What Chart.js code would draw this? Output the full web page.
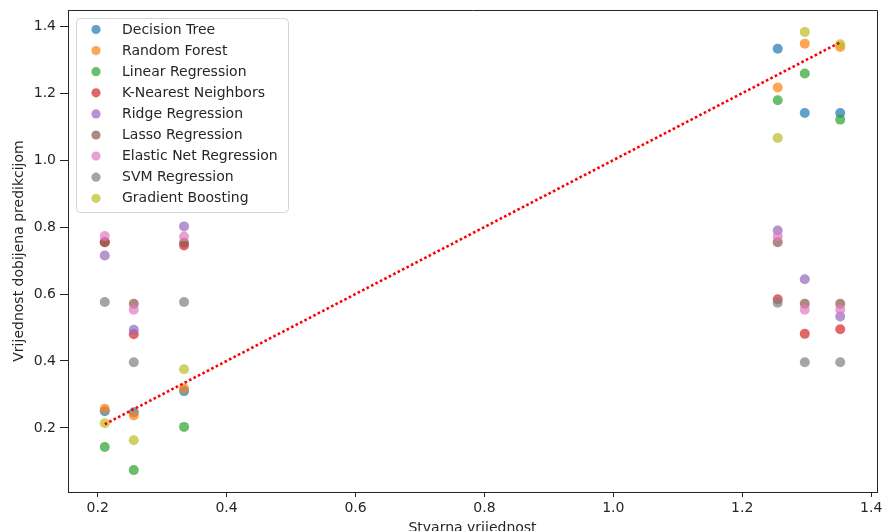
<!DOCTYPE html>
<html>
<head>
<meta charset="utf-8">
<script src="https://cdn.jsdelivr.net/npm/chart.js@4/dist/chart.umd.min.js"></script>
<style>
  html, body { margin: 0; padding: 0; background: #ffffff; }
  #wrap { position: relative; width: 882px; height: 531px; }
</style>
</head>
<body>
<div id="wrap"><canvas id="chart" width="882" height="531"></canvas></div>
<script>
// Actual target values (x) shared by every model
const actualValues = [0.211, 0.256, 0.334, 1.255, 1.297, 1.352];

// Predictions per model, in the same order as actualValues
const modelNames = [
  'Decision Tree', 'Random Forest', 'Linear Regression', 'K-Nearest Neighbors',
  'Ridge Regression', 'Lasso Regression', 'Elastic Net Regression', 'SVM Regression',
  'Gradient Boosting'
];
const decisionTree     = [0.250, 0.247, 0.310, 1.333, 1.141, 1.141];
const randomForest     = [0.257, 0.237, 0.318, 1.217, 1.348, 1.338];
const linearRegression = [0.143, 0.074, 0.203, 1.179, 1.259, 1.121];
const kNearest         = [0.755, 0.480, 0.745, 0.584, 0.481, 0.495];
const ridgeRegression  = [0.715, 0.493, 0.802, 0.790, 0.644, 0.533];
const lassoRegression  = [0.755, 0.571, 0.753, 0.755, 0.571, 0.571];
const elasticNet       = [0.773, 0.553, 0.772, 0.772, 0.553, 0.553];
const svmRegression    = [0.576, 0.396, 0.576, 0.574, 0.396, 0.396];
const gradientBoosting = [0.214, 0.163, 0.375, 1.066, 1.383, 1.346];

const xTicks = [0.2, 0.4, 0.6, 0.8, 1.0, 1.2, 1.4];
const yTicks = [0.2, 0.4, 0.6, 0.8, 1.0, 1.2, 1.4];

const seriesValues = [
  decisionTree, randomForest, linearRegression, kNearest, ridgeRegression,
  lassoRegression, elasticNet, svmRegression, gradientBoosting
];
const palette = ['#1f77b4', '#ff7f0e', '#2ca02c', '#d62728', '#9467bd',
                 '#8c564b', '#e377c2', '#7f7f7f', '#bcbd22'];

function withAlpha(hex, a) {
  const n = parseInt(hex.slice(1), 16);
  return `rgba(${(n >> 16) & 255}, ${(n >> 8) & 255}, ${n & 255}, ${a})`;
}

const FONT = "'DejaVu Sans', 'Liberation Sans', sans-serif";
const TEXT = '#262626';
const AXIS = '#262626';

// Scatter series, later models painted over earlier ones
const datasets = seriesValues.map((vals, i) => ({
  type: 'scatter',
  label: modelNames[i],
  data: vals.map((v, j) => ({ x: actualValues[j], y: v })),
  backgroundColor: withAlpha(palette[i], 0.7),
  borderWidth: 0,
  pointRadius: 5,
  pointHoverRadius: 5,
  order: 100 - i
}));

// Ideal prediction line y = x across the actual range
const lo = Math.min(...actualValues);
const hi = Math.max(...actualValues);
datasets.push({
  type: 'line',
  label: '_ideal',
  data: [{ x: lo, y: lo }, { x: hi, y: hi }],
  borderColor: '#ff0000',
  borderWidth: 2.6,
  borderDash: [2.6, 2.4],
  borderCapStyle: 'butt',
  pointRadius: 0,
  fill: false,
  order: 0
});

// Data range with 5% margins on each side
const xSpan = hi - lo;
const allY = seriesValues.flat();
const yMinV = Math.min(...allY), yMaxV = Math.max(...allY);
const ySpan = yMaxV - yMinV;

// Frame on top and right of the plot area
const framePlugin = {
  id: 'frame',
  afterDatasetsDraw(chart) {
    const { ctx, chartArea: a } = chart;
    ctx.save();
    ctx.strokeStyle = AXIS;
    ctx.lineWidth = 1;
    ctx.beginPath();
    ctx.moveTo(a.left, a.top + 0.5);
    ctx.lineTo(a.right + 0.5, a.top + 0.5);
    ctx.lineTo(a.right + 0.5, a.bottom);
    ctx.stroke();
    ctx.restore();
  }
};

// Boxed legend in the upper-left corner of the plot
const boxLegend = {
  id: 'boxLegend',
  afterDraw(chart) {
    const { ctx } = chart;
    const items = chart.data.datasets.filter(d => d.type === 'scatter');
    const left = 76, top = 18, width = 212, height = 194;
    const rowStart = 29.5, rowStep = 21.1;
    ctx.save();
    ctx.beginPath();
    ctx.roundRect(left + 0.5, top + 0.5, width, height, 4);
    ctx.fillStyle = 'rgba(255,255,255,0.85)';
    ctx.fill();
    ctx.strokeStyle = '#d4d4d4';
    ctx.lineWidth = 1;
    ctx.stroke();
    ctx.font = `14px ${FONT}`;
    ctx.textBaseline = 'middle';
    ctx.textAlign = 'left';
    items.forEach((d, i) => {
      const y = rowStart + i * rowStep;
      ctx.beginPath();
      ctx.arc(96, y, 4.6, 0, Math.PI * 2);
      ctx.fillStyle = d.backgroundColor;
      ctx.fill();
      ctx.fillStyle = TEXT;
      ctx.fillText(d.label, 122, y + 0.5);
    });
    ctx.restore();
  }
};

new Chart(document.getElementById('chart'), {
  data: { datasets },
  options: {
    responsive: false,
    animation: false,
    events: [],
    layout: { padding: { top: 10, right: 5, left: 0, bottom: 0 } },
    plugins: {
      legend: { display: false },
      tooltip: { enabled: false }
    },
    scales: {
      x: {
        type: 'linear',
        position: 'bottom',
        min: lo - 0.05 * xSpan,
        max: hi + 0.05 * xSpan,
        afterFit(scale) {
          scale.height = 39;
          scale.paddingLeft = 0;
          scale.paddingRight = 0;
        },
        afterBuildTicks(scale) { scale.ticks = xTicks.map(v => ({ value: v })); },
        border: { display: true, color: AXIS, width: 1 },
        grid: { display: true, drawOnChartArea: false, drawTicks: true, tickLength: 5, tickColor: AXIS, tickWidth: 1 },
        ticks: {
          padding: 3,
          maxRotation: 0,
          color: TEXT,
          font: { family: FONT, size: 14 },
          callback: v => Number(v).toFixed(1)
        },
        title: {
          display: true,
          text: 'Stvarna vrijednost',
          color: TEXT,
          font: { family: FONT, size: 14 },
          padding: { top: 0, bottom: -6 }
        }
      },
      y: {
        type: 'linear',
        position: 'left',
        min: yMinV - 0.05 * ySpan,
        max: yMaxV + 0.05 * ySpan,
        afterFit(scale) {
          scale.width = 68;
          scale.paddingTop = 0;
          scale.paddingBottom = 0;
        },
        afterBuildTicks(scale) { scale.ticks = yTicks.map(v => ({ value: v })); },
        border: { display: true, color: AXIS, width: 1 },
        grid: { display: true, drawOnChartArea: false, drawTicks: true, tickLength: 8, tickColor: AXIS, tickWidth: 1 },
        ticks: {
          padding: 4,
          color: TEXT,
          font: { family: FONT, size: 14 },
          callback: v => Number(v).toFixed(1)
        },
        title: {
          display: true,
          text: 'Vrijednost dobijena predikcijom',
          color: TEXT,
          font: { family: FONT, size: 14 },
          padding: { top: 11, bottom: 0 }
        }
      }
    }
  },
  plugins: [framePlugin, boxLegend]
});
</script>
</body>
</html>
